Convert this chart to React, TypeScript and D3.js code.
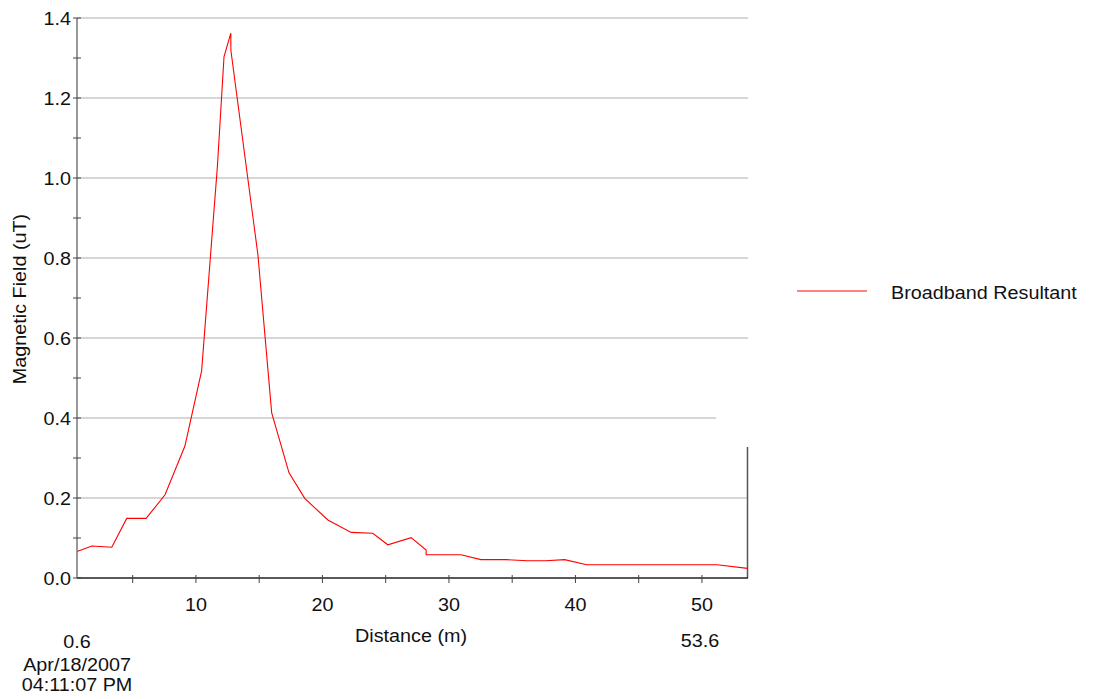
import React from "react";
import * as d3 from "d3";

const distance = [0.6, 1.78, 3.35, 4.53, 6.06, 7.56, 9.13, 10.45, 11.7, 12.22, 12.76, 12.76, 14.9, 15.99, 17.36, 18.6, 20.43, 22.28, 23.98, 25.17, 27.01, 28.2, 28.2, 30.95, 32.53, 34.5, 36.2, 37.66, 39.15, 40.89, 51.2, 53.6];
const field = [0.066, 0.08, 0.077, 0.149, 0.149, 0.208, 0.33, 0.518, 1.03, 1.303, 1.362, 1.32, 0.808, 0.413, 0.263, 0.199, 0.145, 0.114, 0.112, 0.083, 0.101, 0.07, 0.058, 0.058, 0.046, 0.046, 0.043, 0.043, 0.046, 0.033, 0.033, 0.024];
const yTicks = [0, 0.2, 0.4, 0.6, 0.8, 1.0, 1.2, 1.4];
const yMinor = [0.1, 0.3, 0.5, 0.7, 0.9, 1.1, 1.3];
const xTicks = [10, 20, 30, 40, 50];
const xMinor = [5, 15, 25, 35, 45];
const seriesName = "Broadband Resultant";
const dateLine = "Apr/18/2007";
const timeLine = "04:11:07 PM";

const FS = 18.5;
const SX = 1.07;

function T(props: { x: number; y: number; anchor?: string; rotate?: number; dy?: string; children: React.ReactNode }) {
  const { x, y, anchor = "start", rotate = 0, dy, children } = props;
  return (
    <text
      transform={`translate(${x},${y}) rotate(${rotate}) scale(${SX},1)`}
      textAnchor={anchor}
      dy={dy}
      fontSize={FS}
      fill="#111"
    >
      {children}
    </text>
  );
}

export default function App() {
  const x = d3.scaleLinear().domain([0.6, 53.6]).range([77, 747.5]);
  const y = d3.scaleLinear().domain([0, 1.4]).range([578, 18]);
  const pts = distance.map((d, i) => [d, field[i]] as [number, number]);
  const line = d3.line<[number, number]>().x((d) => x(d[0])).y((d) => y(d[1]));
  const font = "'Liberation Sans', Arial, sans-serif";
  return (
    <svg width={1095} height={699} style={{ position: "absolute", left: 0, top: 0 }} fontFamily={font}>
      <rect width={1095} height={699} fill="#fff" />
      {yTicks.filter((t) => t > 0).map((t) => (
        <line key={"g" + t} x1={x(0.6)} x2={t === 0.4 ? 716 : 748} y1={y(t)} y2={y(t)} stroke="#c8c8c8" strokeWidth={1.5} />
      ))}
      <line x1={747.5} x2={747.5} y1={447} y2={578} stroke="#555" strokeWidth={1.5} />
      <path d={line(pts) || ""} fill="none" stroke="#ff0000" strokeWidth={1.1} />
      <line x1={77} x2={77} y1={18} y2={578} stroke="#777" strokeWidth={1.5} />
      <line x1={77} x2={748} y1={578} y2={578} stroke="#222" strokeWidth={1.3} />
      {yTicks.concat(yMinor).map((t) => (
        <line key={"yt" + t} x1={73} x2={81} y1={y(t)} y2={y(t)} stroke="#444" strokeWidth={1} />
      ))}
      {yTicks.map((t) => (
        <T key={"yl" + t} x={71} y={y(t) + 7} anchor="end">{d3.format(".1f")(t)}</T>
      ))}
      {xTicks.concat(xMinor).map((t) => (
        <line key={"xt" + t} x1={x(t)} x2={x(t)} y1={575} y2={583} stroke="#444" strokeWidth={1} />
      ))}
      {xTicks.map((t) => (
        <T key={"xl" + t} x={x(t)} y={611} anchor="middle">{t}</T>
      ))}
      <T x={411} y={642} anchor="middle">Distance (m)</T>
      <T x={77} y={648} anchor="middle">{d3.format(".1f")(0.6)}</T>
      <T x={77} y={671} anchor="middle">{dateLine}</T>
      <T x={77} y={691} anchor="middle">{timeLine}</T>
      <T x={700} y={647} anchor="middle">{d3.format(".1f")(53.6)}</T>
      <T x={26} y={299} anchor="middle" rotate={-90}>Magnetic Field (uT)</T>
      <line x1={797} x2={867} y1={291} y2={291} stroke="#ff5a5a" strokeWidth={1.3} />
      <T x={891} y={299}>{seriesName}</T>
    </svg>
  );
}
